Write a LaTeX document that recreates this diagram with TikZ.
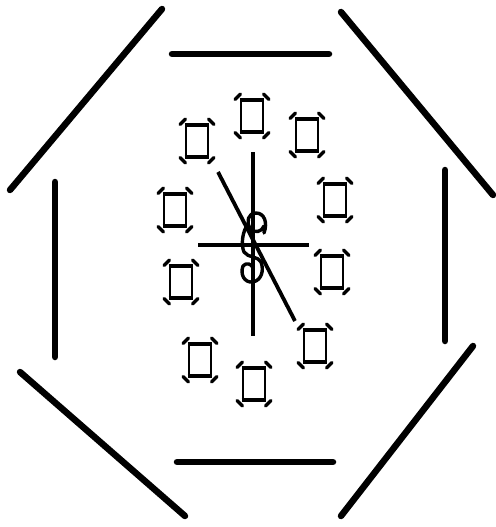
\documentclass[tikz,border=0pt]{standalone}
\begin{document}
\begin{tikzpicture}[x=1pt,y=-1pt,
  oct/.style={line width=6.5pt,line cap=round},
  hand/.style={line width=3.8pt},
  tofu/.pic={
    \draw[line width=2.8pt] (-11,-16) -- (-11,16) (11,-16) -- (11,16);
    \draw[line width=4.6pt] (-12.4,-16) -- (12.4,-16) (-12.4,16) -- (12.4,16);
    \draw[line width=3.2pt,line cap=round]
      (-17,-16.5) -- (-11.5,-22) (11.5,-22) -- (17,-16.5)
      (-17,16.5) -- (-11.5,22) (11.5,22) -- (17,16.5);
  }]
\useasboundingbox (0,0) rectangle (495,527);
% octagon segments
\coordinate (t1) at (172,54);  \coordinate (t2) at (329,54);
\coordinate (b1) at (177,462); \coordinate (b2) at (333,462);
\coordinate (l1) at (55,182);  \coordinate (l2) at (55,357);
\coordinate (r1) at (445,170); \coordinate (r2) at (445,341);
\coordinate (tl1) at (10,190); \coordinate (tl2) at (162,9);
\coordinate (tr1) at (341,12); \coordinate (tr2) at (493,195);
\coordinate (bl1) at (20,372); \coordinate (bl2) at (185,516);
\coordinate (br1) at (341,516); \coordinate (br2) at (473,346);
\draw[oct] (t1) -- (t2);
\draw[oct] (b1) -- (b2);
\draw[oct] (l1) -- (l2);
\draw[oct] (r1) -- (r2);
\draw[oct] (tl1) -- (tl2);
\draw[oct] (tr1) -- (tr2);
\draw[oct] (bl1) -- (bl2);
\draw[oct] (br1) -- (br2);
% boxes
\pic (q1) at (252,116) {tofu};
\pic (q2) at (307,135) {tofu};
\pic (q3) at (335,200) {tofu};
\pic (q4) at (332,272) {tofu};
\pic (q5) at (315,346) {tofu};
\pic (q6) at (254,384) {tofu};
\pic (q7) at (200,360) {tofu};
\pic (q8) at (181,282) {tofu};
\pic (q9) at (175,210) {tofu};
\pic (q10) at (197,141) {tofu};
% hands
\coordinate (v1) at (253,152); \coordinate (v2) at (253,336);
\coordinate (h1) at (198,245); \coordinate (h2) at (309,245);
\coordinate (d1) at (218,172); \coordinate (d2) at (295,321);
\draw[hand] (v1) -- (v2);
\draw[hand] (h1) -- (h2);
\draw[hand] (d1) -- (d2);
% centre scribble
\draw[line width=3.4pt,line cap=round,line join=round]
  (264,233) .. controls (268,222) and (264,213) .. (256,213)
  .. controls (248,213) and (246,222) .. (250,228)
  .. controls (254,234) and (262,232) .. (264,226)
  (248,224) .. controls (242,232) and (241,245) .. (244,252)
  .. controls (248,258) and (258,256) .. (261,262)
  .. controls (264,270) and (262,280) .. (253,282)
  .. controls (244,283) and (240,274) .. (243,266)
  .. controls (246,262) and (252,264) .. (253,268);
\end{tikzpicture}
\end{document}
